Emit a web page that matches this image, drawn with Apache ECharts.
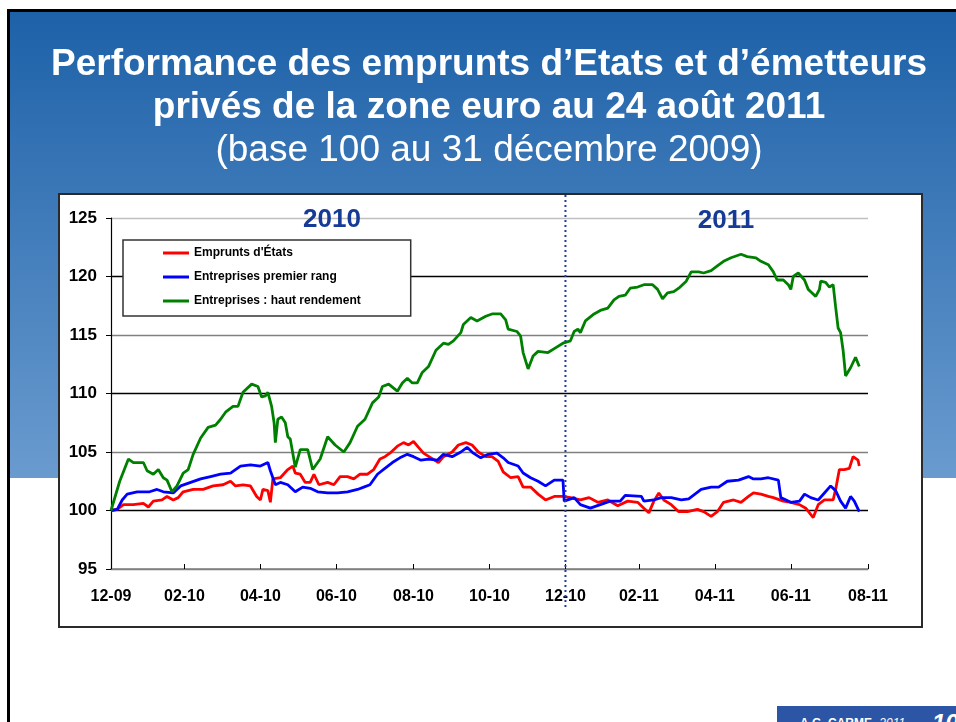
<!DOCTYPE html>
<html>
<head>
<meta charset="utf-8">
<script src="https://cdn.jsdelivr.net/npm/echarts@6/dist/echarts.min.js"></script>
<style>
    html, body { margin: 0; padding: 0; background: #fff; overflow: hidden; }
    body { width: 956px; height: 722px; position: relative; font-family: "Liberation Sans", Arial, sans-serif; }
    .slide { position: absolute; left: 7px; top: 9px; width: 980px; height: 740px; border-left: 3px solid #000; border-top: 3px solid #000; }
    .band { position: absolute; left: 10px; top: 12px; width: 946px; height: 466px; background: linear-gradient(#1d61a8, #6a9bcf); }
    .box { position: absolute; left: 58px; top: 193px; width: 865px; height: 435px; box-sizing: border-box; border: 2px solid #2a2a2a; background: #fff; }
    #chart { position: absolute; left: 0; top: 0; width: 956px; height: 722px; }
    .footer { position: absolute; left: 777px; top: 706px; width: 179px; height: 16px; overflow: hidden; background: #2c55a6; color: #fff; white-space: nowrap; }
    .footer .who { position: absolute; left: 23px; top: 10px; font-size: 12px; font-weight: bold; }
    .footer .year { font-weight: normal; font-style: italic; }
    .footer .page { position: absolute; left: 155px; top: 3px; font-size: 24px; font-weight: bold; font-style: italic; }
</style>
</head>
<body>
<div class="slide"></div>
<div class="band"></div>
<div class="box"></div>
<div id="chart"></div>
<div class="footer"><span class="who">A.G. CARME<span class="year">- 2011</span></span><span class="page">10</span></div>
<script>
    // jours depuis la base (31/12/2009) et niveaux, base 100
    const govDays = [0, 5, 10, 18, 26, 30, 34, 41, 45, 50, 54, 58, 66, 74, 82, 90, 96, 100, 106, 112, 117, 120, 122, 126, 128, 130, 136, 142, 146, 148, 152, 156, 160, 163, 167, 174, 179, 184, 190, 195, 200, 206, 211, 216, 220, 224, 230, 235, 239, 243, 247, 251, 257, 263, 267, 274, 279, 285, 290, 295, 301, 306, 311, 315, 321, 327, 331, 337, 343, 349, 356, 363, 369, 377, 384, 391, 399, 407, 415, 423, 428, 432, 436, 440, 444, 450, 456, 463, 471, 476, 482, 487, 492, 500, 506, 512, 516, 522, 528, 532, 540, 546, 553, 558, 564, 568, 573, 580, 582, 585, 589, 593, 596, 600, 601];
    const govValues = [100, 100.1, 100.5, 100.5, 100.6, 100.3, 100.8, 100.9, 101.2, 100.9, 101.1, 101.6, 101.8, 101.8, 102.1, 102.2, 102.5, 102.1, 102.2, 102.1, 101.2, 100.9, 101.8, 101.7, 100.7, 102.7, 102.8, 103.5, 103.8, 103.2, 103.1, 102.4, 102.4, 103.1, 102.2, 102.4, 102.2, 102.9, 102.9, 102.7, 103.1, 103.1, 103.5, 104.4, 104.6, 104.9, 105.5, 105.8, 105.6, 105.9, 105.4, 104.9, 104.5, 104.1, 104.6, 105.0, 105.6, 105.8, 105.6, 105.0, 104.6, 104.6, 104.2, 103.3, 102.8, 102.9, 102.0, 102.0, 101.4, 100.9, 101.2, 101.2, 101.1, 100.9, 101.1, 100.7, 100.9, 100.4, 100.8, 100.7, 100.2, 99.8, 100.8, 101.5, 100.9, 100.5, 99.9, 99.9, 100.1, 99.9, 99.5, 99.9, 100.7, 100.9, 100.7, 101.2, 101.5, 101.4, 101.2, 101.1, 100.8, 100.7, 100.5, 100.2, 99.4, 100.5, 100.9, 100.9, 101.8, 103.5, 103.5, 103.6, 104.6, 104.3, 103.8];

    const igDays = [0, 5, 9, 13, 21, 31, 37, 42, 50, 56, 64, 72, 80, 88, 96, 104, 112, 120, 126, 128, 132, 136, 142, 148, 154, 160, 166, 174, 182, 190, 198, 203, 208, 214, 220, 226, 232, 238, 243, 249, 255, 262, 267, 274, 281, 286, 291, 297, 303, 310, 315, 319, 327, 331, 337, 343, 349, 356, 363, 364, 372, 377, 385, 393, 401, 409, 413, 426, 428, 436, 442, 450, 458, 464, 474, 482, 488, 495, 504, 512, 516, 522, 528, 536, 538, 546, 553, 557, 562, 568, 573, 578, 582, 586, 590, 594, 597, 601];
    const igValues = [100, 100.1, 100.9, 101.4, 101.6, 101.6, 101.8, 101.6, 101.5, 102.1, 102.4, 102.7, 102.9, 103.1, 103.2, 103.8, 103.9, 103.8, 104.1, 103.4, 102.2, 102.4, 102.2, 101.6, 102.0, 101.9, 101.6, 101.5, 101.5, 101.6, 101.8, 102.0, 102.2, 103.1, 103.6, 104.1, 104.5, 104.8, 104.6, 104.3, 104.4, 104.3, 104.8, 104.6, 105.0, 105.4, 104.9, 104.5, 104.8, 104.9, 104.5, 104.1, 103.8, 103.2, 102.8, 102.5, 102.1, 102.6, 102.6, 100.8, 101.1, 100.5, 100.2, 100.5, 100.8, 100.8, 101.3, 101.2, 100.8, 100.9, 101.1, 101.1, 100.9, 101.0, 101.8, 102.0, 102.0, 102.5, 102.6, 102.9, 102.7, 102.7, 102.8, 102.6, 101.1, 100.7, 100.8, 101.4, 101.1, 100.9, 101.5, 102.1, 101.7, 100.8, 100.2, 101.2, 100.8, 99.9];

    const hyDays = [0, 7, 14, 18, 26, 29, 34, 38, 42, 45, 49, 53, 58, 62, 66, 72, 78, 84, 88, 92, 98, 102, 106, 113, 118, 121, 124, 126, 129, 131, 132, 134, 137, 140, 142, 144, 148, 152, 158, 162, 168, 174, 180, 187, 192, 198, 204, 210, 215, 218, 223, 230, 234, 238, 242, 246, 250, 255, 261, 267, 271, 275, 281, 283, 289, 294, 301, 306, 313, 317, 319, 326, 329, 331, 335, 339, 343, 351, 357, 363, 369, 372, 375, 377, 381, 388, 393, 399, 404, 408, 413, 417, 423, 428, 435, 439, 443, 447, 452, 456, 462, 466, 472, 476, 482, 487, 492, 498, 506, 511, 518, 522, 528, 532, 535, 540, 544, 546, 548, 552, 557, 560, 562, 566, 569, 570, 574, 577, 580, 582, 584, 586, 588, 590, 594, 598, 601];
    const hyValues = [100, 102.5, 104.4, 104.1, 104.1, 103.4, 103.1, 103.5, 102.8, 102.6, 101.6, 102.1, 103.2, 103.5, 104.8, 106.2, 107.1, 107.3, 107.8, 108.4, 108.9, 108.9, 110.1, 110.8, 110.6, 109.7, 109.8, 110.1, 108.9, 107.5, 105.8, 107.8, 108.0, 107.5, 106.3, 106.1, 103.7, 105.2, 105.2, 103.5, 104.4, 106.3, 105.6, 105.0, 105.8, 107.2, 107.8, 109.2, 109.7, 110.6, 110.8, 110.2, 110.9, 111.3, 110.9, 110.9, 111.8, 112.3, 113.7, 114.3, 114.2, 114.5, 115.2, 115.9, 116.5, 116.2, 116.6, 116.8, 116.8, 116.3, 115.5, 115.3, 114.9, 113.5, 112.1, 113.2, 113.6, 113.5, 113.9, 114.3, 114.5, 115.3, 115.5, 115.2, 116.2, 116.8, 117.1, 117.3, 118.0, 118.3, 118.4, 119.0, 119.1, 119.3, 119.3, 118.9, 118.1, 118.6, 118.7, 119.0, 119.6, 120.4, 120.4, 120.3, 120.5, 120.9, 121.3, 121.6, 121.9, 121.7, 121.6, 121.3, 121.0, 120.4, 119.7, 119.7, 119.3, 118.9, 120.0, 120.3, 119.7, 118.9, 118.7, 118.3, 118.9, 119.6, 119.5, 119.1, 119.3, 117.4, 115.6, 115.2, 113.7, 111.5, 112.2, 113.1, 112.3];

    const seriesNames = ["Emprunts d'États", 'Entreprises premier rang', 'Entreprises : haut rendement'];
    const seriesColors = ['#ff0000', '#0000ff', '#008000'];
    // repères de l'axe des dates: fins de mois tous les deux mois
    const tickDays = [0, 59, 120, 181, 243, 304, 365, 424, 485, 546, 608];
    const yearLabels = ['2010', '2011'];

    const font = '"Liberation Sans", Arial, sans-serif';
    const nbDays = 609;

    const dates = [];
    for (let i = 0; i < nbDays; i++) {
        dates.push(new Date(Date.UTC(2009, 11, 31 + i)).toISOString().slice(0, 10));
    }
    const isTick = (index) => tickDays.indexOf(index) >= 0;
    const zip = (days, values) => days.map((d, i) => [d, values[i]]);

    const chart = echarts.init(document.getElementById('chart'), null, { renderer: 'canvas' });

    const option = {
        animation: false,
        title: {
            text: 'Performance des emprunts d’Etats et d’émetteurs\nprivés de la zone euro au 24 août 2011',
            subtext: '(base 100 au 31 décembre 2009)',
            left: 489,
            top: 43,
            padding: 0,
            itemGap: 0,
            textAlign: 'center',
            textStyle: { color: '#fff', fontFamily: font, fontWeight: 'bold', fontSize: 37, lineHeight: 43 },
            subtextStyle: { color: '#fff', fontFamily: font, fontWeight: 'normal', fontSize: 37, lineHeight: 44 }
        },
        legend: {
            data: seriesNames,
            orient: 'vertical',
            left: 123,
            top: 240,
            padding: [7, 50, 9, 40],
            itemWidth: 26,
            itemHeight: 3,
            itemGap: 12,
            icon: 'rect',
            backgroundColor: '#fff',
            borderColor: '#333',
            borderWidth: 1.5,
            borderRadius: 0,
            textStyle: { color: '#000', fontFamily: font, fontWeight: 'bold', fontSize: 12 }
        },
        grid: { left: 111, right: 88, top: 218, bottom: 153, containLabel: false },
        xAxis: {
            type: 'category',
            data: dates,
            boundaryGap: false,
            axisLine: { lineStyle: { color: '#808080', width: 1.5 } },
            axisTick: { inside: true, length: 5, interval: isTick, lineStyle: { color: '#000', width: 1 } },
            axisLabel: {
                interval: isTick,
                margin: 20,
                color: '#000',
                fontFamily: font,
                fontWeight: 'bold',
                fontSize: 16,
                formatter: (v) => v.slice(5, 7) + '-' + v.slice(2, 4)
            },
            splitLine: { show: false }
        },
        yAxis: {
            type: 'value',
            min: 95,
            max: 125,
            interval: 5,
            axisLine: { show: true, lineStyle: { color: '#000', width: 1.2 } },
            axisTick: { show: true, length: 5, lineStyle: { color: '#000' } },
            axisLabel: { margin: 14, color: '#000', fontFamily: font, fontWeight: 'bold', fontSize: 17 },
            splitLine: {
                show: true,
                lineStyle: { color: ['#808080', '#000', '#808080', '#000', '#808080', '#000', '#c0c0c0'], width: 1.3 }
            }
        },
        series: [
            { name: seriesNames[0], type: 'line', data: zip(govDays, govValues) },
            { name: seriesNames[1], type: 'line', data: zip(igDays, igValues) },
            { name: seriesNames[2], type: 'line', data: zip(hyDays, hyValues) }
        ].map((s, i) => Object.assign(s, {
            symbol: 'none',
            color: seriesColors[i],
            lineStyle: { color: seriesColors[i], width: 2.8 }
        }))
    };

    chart.setOption(option);

    // séparation 2010 / 2011 et libellés des années
    const xSplit = chart.convertToPixel({ xAxisIndex: 0 }, 365);
    const yearStyle = { fill: '#163b97', font: 'bold 26px ' + font, textAlign: 'center', textVerticalAlign: 'middle' };
    chart.setOption({
        graphic: [
            {
                type: 'line',
                shape: { x1: xSplit, y1: 195, x2: xSplit, y2: 608 },
                style: { stroke: '#1f3f9f', lineWidth: 2, lineDash: [2, 3] },
                z: 10
            },
            { type: 'text', x: 332, y: 220, style: Object.assign({ text: yearLabels[0] }, yearStyle), z: 10 },
            { type: 'text', x: 726, y: 221, style: Object.assign({ text: yearLabels[1] }, yearStyle), z: 10 }
        ]
    });
</script>
</body>
</html>
